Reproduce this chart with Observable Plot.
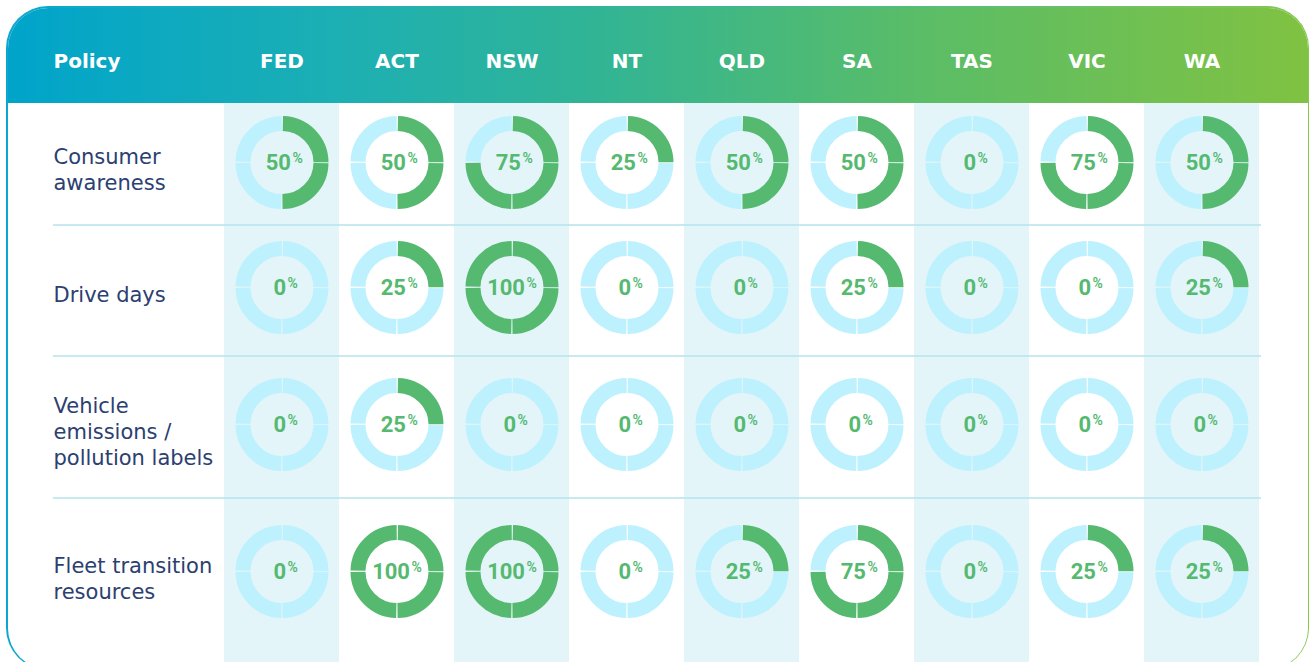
<!DOCTYPE html>
<html>
<head>
<meta charset="utf-8">
<script src="https://cdn.jsdelivr.net/npm/d3@7"></script>
<script src="https://cdn.jsdelivr.net/npm/@observablehq/plot@0.6"></script>
<style>
  html, body { margin: 0; padding: 0; background: #fff; width: 1309px; height: 662px; overflow: hidden; }
  #card {
    position: absolute; left: 6px; top: 6px; width: 1303px; height: 664px;
    border-radius: 42px; padding: 1.5px; box-sizing: border-box;
    background: linear-gradient(90deg, #0ea6cf 0%, #2fb3a0 45%, #86c64f 100%);
  }
  #inner {
    position: relative; width: 100%; height: 100%; background: #fff;
    border-radius: 40.5px; overflow: hidden;
  }
  #header {
    position: absolute; left: 0; top: 0; right: 0; height: 95.5px;
    background: linear-gradient(90deg, #00a4ca 0%, #1cafb4 25%, #31b495 45%, #5abd67 70%, #80c242 100%);
  }
  #chart { position: absolute; left: 0; top: 0; }
</style>
</head>
<body>
<div id="card"><div id="inner"><div id="header"></div></div></div>
<div id="chart"></div>
<script>
// ---- data ----
const policies = ["Consumer\nawareness", "Drive days", "Vehicle\nemissions /\npollution labels", "Fleet transition\nresources"];
const states = ["FED", "ACT", "NSW", "NT", "QLD", "SA", "TAS", "VIC", "WA"];
const consumerAwareness = [50, 50, 75, 25, 50, 50, 0, 75, 50];
const driveDays = [0, 25, 100, 0, 0, 25, 0, 0, 25];
const vehicleEmissionsLabels = [0, 25, 0, 0, 0, 0, 0, 0, 0];
const fleetTransitionResources = [0, 100, 100, 0, 25, 75, 0, 25, 25];
const shadedStates = ["FED", "NSW", "QLD", "TAS", "WA"];
const headerLabel = ["Policy"];

// ---- derived tables ----
const rows = [consumerAwareness, driveDays, vehicleEmissionsLabels, fleetTransitionResources];
const cells = policies.flatMap((p, i) => rows[i].map((v, j) => ({row: i, state: states[j], value: v})));
const quarters = cells.flatMap(c => [0, 1, 2, 3].map(q => ({...c, q, on: q < c.value / 25})));
const separators = d3.range(policies.length - 1).map(i => i + 0.5);

const GREEN = "#55b970", TRACK = "#bdf1fd";
const R = 39, SW = 15;
const C = 2 * Math.PI * R, Q = C / 4, G = 1.2;

const ringMarks = [0, 1, 2, 3].map(q => Plot.dot(quarters.filter(d => d.q === q), {
  x: "state", y: "row", r: R, fill: "none",
  stroke: d => d.on ? GREEN : TRACK, strokeWidth: SW,
  strokeDasharray: `${Q - G} ${C - Q + G}`,
  strokeDashoffset: C / 4 - q * Q - G / 2
}));

const digitDx = {1: 4, 2: 9, 3: 13};
const labelMarks = [1, 2, 3].flatMap(n => {
  const sub = cells.filter(d => String(d.value).length === n);
  return [
    Plot.text(sub, {x: "state", y: "row", text: d => String(d.value), textAnchor: "end", lineAnchor: "middle",
      dx: digitDx[n], fill: GREEN, fontSize: 22, fontWeight: "bold", fontFamily: "Roboto"}),
    Plot.text(sub, {x: "state", y: "row", text: () => "%", textAnchor: "start", lineAnchor: "middle",
      dx: digitDx[n] + 1.5, dy: -3.5, fill: GREEN, fontSize: 14, fontWeight: 600, fontFamily: "Roboto"})
  ];
});

const chart = Plot.plot({
  width: 1309, height: 662,
  marginTop: 103, marginLeft: 222, marginRight: 48, marginBottom: 0,
  style: {background: "transparent", overflow: "visible"},
  x: {type: "band", domain: states, padding: 0},
  y: {type: "linear", domain: [0, 1, 2, 3], range: [162, 287, 424, 571], axis: null},
  marks: [
    Plot.cell(shadedStates, {x: d => d, fill: "#e3f5f9"}),
    Plot.ruleY(separators, {stroke: "#b5e3ed", strokeWidth: 1.5, insetLeft: -169}),
    ...ringMarks,
    ...labelMarks,
    Plot.text(policies, {y: (d, i) => i, frameAnchor: "left", dx: -169, dy: 6, textAnchor: "start",
      lineAnchor: "middle", lineHeight: 1.25, fill: "#2b4070", fontSize: 21, fontFamily: "DejaVu Sans"}),
    Plot.axisX({anchor: "top", tickSize: 0, tickPadding: 41.5, lineAnchor: "middle", label: null,
      color: "white", fontSize: 20, fontWeight: "bold", fontFamily: "DejaVu Sans"}),
    Plot.text(headerLabel, {frameAnchor: "top-left", dx: -169, dy: -41.5, textAnchor: "start", lineAnchor: "middle",
      fill: "white", fontSize: 20, fontWeight: "bold", fontFamily: "DejaVu Sans"})
  ]
});
document.getElementById("chart").appendChild(chart);
</script>
</body>
</html>
